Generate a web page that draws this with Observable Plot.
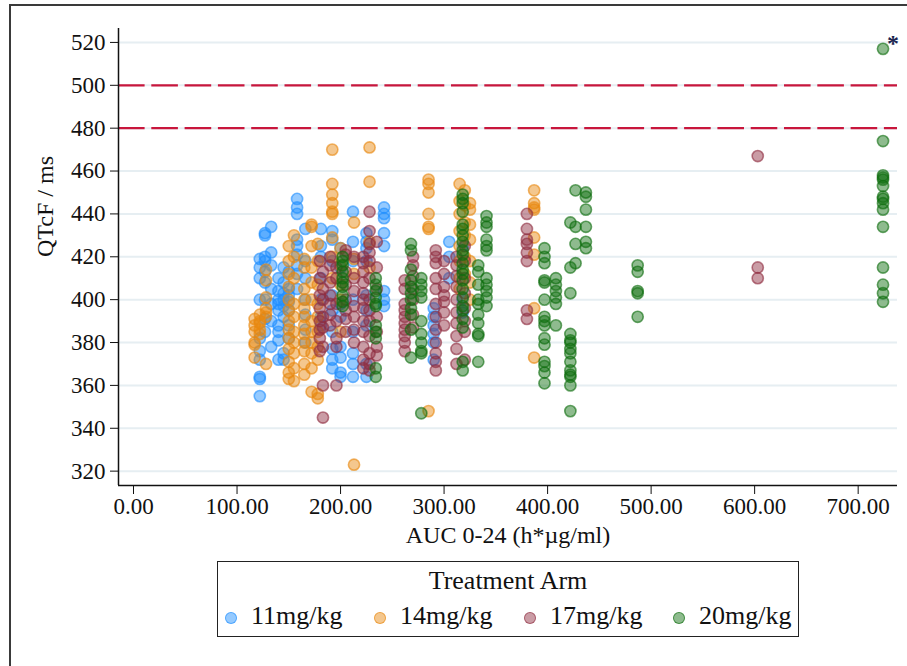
<!DOCTYPE html>
<html>
<head>
<meta charset="utf-8">
<script src="https://cdn.jsdelivr.net/npm/d3@7"></script>
<script src="https://cdn.jsdelivr.net/npm/@observablehq/plot@0.6"></script>
<style>
  html, body { margin: 0; padding: 0; background: #fff; width: 907px; height: 666px; overflow: hidden; }
  #outer { position: absolute; left: 9px; top: 4px; width: 1000px; height: 1000px; border: 2px solid #3a3a3a; box-sizing: border-box; }
  #chart { position: absolute; left: 0; top: 0; }
  #legend { position: absolute; left: 217px; top: 561px; width: 582px; height: 76px; border: 1.5px solid #222; box-sizing: border-box; font-family: "Liberation Serif", serif; color: #111; }
  #legend .title { position: absolute; left: 0; right: 0; top: 4px; text-align: center; font-size: 26px; }
  #legend .item { position: absolute; top: 39px; font-size: 26px; white-space: nowrap; }
  #legend .sw { position: absolute; width: 10px; height: 10px; border-radius: 50%; top: 11px; left: -26px; border: 1.5px solid; box-sizing: content-box; }
</style>
</head>
<body>
<div id="outer"></div>
<div id="chart"></div>
<div id="legend"></div>
<script>
// ---- data ----
const arms = ["11mg/kg", "14mg/kg", "17mg/kg", "20mg/kg"];
const armColors = ["#1E8EFF", "#E8870F", "#8F2D40", "#0E6E0E"];
const xTicks = [0, 100, 200, 300, 400, 500, 600, 700];
const yTicks = [320, 340, 360, 380, 400, 420, 440, 460, 480, 500, 520];
const limitLines = [480, 500];

// each entry: [AUC 0-24, [QTcF values]]
const arm11 = [
  [122, [355, 363, 364, 372, 376, 382, 400, 410, 415, 419]],
  [127, [431, 430, 420, 418, 413, 408, 400, 391, 385]],
  [133, [434, 422, 416, 405, 398, 390, 378]],
  [140, [410, 404, 400, 398, 395, 388, 385, 381, 372]],
  [145, [415, 408, 403, 400, 397, 392, 375, 372]],
  [150, [413, 405, 402, 399, 395, 388, 382]],
  [158, [447, 443, 440, 428, 425, 421, 416, 412, 405]],
  [166, [433, 418, 410, 400, 393, 386, 380]],
  [181, [433, 425, 420, 410, 400, 392, 388]],
  [192, [432, 428, 418, 402, 395, 385, 377, 372, 368]],
  [200, [424, 415, 398, 392, 378, 373, 366, 364]],
  [212, [441, 427, 418, 400, 385, 375, 370, 364]],
  [225, [431, 427, 424, 418, 402, 395, 388, 370, 364]],
  [242, [443, 440, 438, 431, 425, 404, 400, 397]],
  [290, [396, 392, 388, 384, 380, 372]],
  [305, [427, 420, 410]],
  [318, [425, 400, 394]]
];
const arm14 = [
  [117, [391, 388, 385, 380, 373, 379]],
  [122, [393, 389, 386, 390, 384]],
  [128, [414, 409, 401, 396, 394, 392, 370]],
  [150, [425, 418, 412, 406, 400, 395, 390, 386, 382, 377, 371, 366, 363]],
  [155, [430, 420, 410, 398, 392, 385, 380, 375, 368, 362]],
  [165, [419, 415, 405, 400, 396, 392, 388, 384, 380, 376, 370, 365]],
  [172, [435, 434, 425, 415, 408, 400, 390, 385, 380, 375, 368, 357]],
  [178, [426, 418, 407, 398, 392, 385, 378, 372, 356, 354]],
  [192, [470, 454, 449, 445, 441, 440, 429, 420, 410]],
  [200, [424, 416, 407, 400, 385]],
  [213, [323, 436, 419, 412]],
  [228, [471, 455, 427, 415]],
  [285, [456, 454, 450, 440, 434, 433, 348]],
  [315, [454, 446, 440, 432, 425, 418, 410, 405]],
  [320, [451, 444, 436, 430, 420, 412]],
  [325, [445, 442, 435, 428, 418, 408, 400]],
  [387, [451, 445, 443, 442, 429, 421, 396, 373]]
];
const arm17 = [
  [180, [418, 410, 402, 396, 390, 386, 382, 376]],
  [183, [413, 405, 400, 392, 387, 378, 360, 345]],
  [190, [420, 416, 408, 402, 398, 393, 388]],
  [196, [415, 410, 398, 390, 382, 378, 360]],
  [205, [423, 421, 413, 407, 400, 395, 391, 385]],
  [213, [420, 410, 404, 397, 392, 386, 380]],
  [222, [420, 417, 413, 408, 403, 400, 396, 390, 385, 378, 372, 368]],
  [228, [441, 432, 426, 422, 418, 410, 400, 395, 390, 383, 375, 370, 367]],
  [235, [427, 415, 405, 392, 385, 378, 374]],
  [262, [409, 405, 398, 395, 392, 389, 386, 383, 380, 376]],
  [270, [420, 416, 411, 405, 400, 393, 387]],
  [292, [423, 420, 417, 410, 405, 398, 392, 386, 380, 375, 371, 367]],
  [300, [418, 412, 406, 402, 399, 394, 388]],
  [312, [420, 416, 411, 406, 400, 394, 389, 383, 377, 370]],
  [320, [425, 418, 410, 403, 396, 390, 385, 372]],
  [380, [440, 433, 428, 426, 422, 418, 395, 391]],
  [603, [467, 415, 410]]
];
const arm20 = [
  [202, [420, 418, 416, 413, 410, 408, 406, 402, 399, 397]],
  [234, [410, 407, 404, 401, 398, 397, 388, 385, 382, 368, 364]],
  [268, [426, 423, 414, 409, 406, 403, 400, 396, 393, 386, 373]],
  [278, [410, 407, 404, 401, 390, 384, 380, 376, 375, 347]],
  [318, [449, 447, 445, 441, 435, 433, 430, 427, 423, 421, 417, 414, 412, 409, 405, 401, 397, 395, 391, 387, 371, 367]],
  [333, [416, 413, 407, 400, 398, 393, 389, 384, 383, 371]],
  [341, [439, 436, 434, 428, 425, 423, 410, 407, 404, 401, 397]],
  [397, [424, 420, 417, 409, 408, 400, 392, 390, 388, 382, 379, 371, 369, 366, 361]],
  [408, [410, 407, 404, 401, 398, 388]],
  [422, [436, 415, 403, 384, 381, 380, 377, 375, 371, 367, 365, 364, 360, 348]],
  [427, [451, 434, 426, 417]],
  [437, [450, 448, 442, 434, 427, 424]],
  [487, [416, 413, 404, 403, 392]],
  [724, [517, 474, 458, 457, 456, 453, 448, 447, 445, 442, 434, 415, 407, 403, 399]]
];
const flagged = [{auc: 724, qtc: 517, label: "*"}];

// ---- build table ----
const armData = [arm11, arm14, arm17, arm20];
const points = [];
armData.forEach((subjects, i) => {
  subjects.forEach(([auc, vals]) => vals.forEach(q => points.push({arm: arms[i], auc, qtc: q})));
});

const font = "Liberation Serif, Times New Roman, serif";
const xDomain = [-14.5, 738];
const yDomain = [313.3, 526.5];

const chart = Plot.plot({
  width: 907,
  height: 556,
  marginLeft: 118,
  marginRight: 10,
  marginTop: 28,
  marginBottom: 71,
  style: {fontFamily: font, fontSize: "22px", color: "#111", background: "transparent", overflow: "visible"},
  x: {domain: xDomain},
  y: {domain: yDomain},
  color: {domain: arms, range: armColors},
  marks: [
    Plot.ruleY(yTicks, {stroke: "#e6eef2", strokeWidth: 2}),
    Plot.ruleY(limitLines, {stroke: "#C8163C", strokeWidth: 2.2, strokeDasharray: "26.6,6.7"}),
    Plot.ruleX([xDomain[0]], {stroke: "#111", strokeWidth: 1.5}),
    Plot.ruleY([yDomain[0]], {stroke: "#111", strokeWidth: 1.5}),
    Plot.axisX({ticks: xTicks, tickFormat: d => d.toFixed(2), tickSize: 9, tickPadding: 3, label: null, fontSize: 23, stroke: "#111"}),
    Plot.axisY({ticks: yTicks, tickSize: 8, tickPadding: 5, label: null, fontSize: 23, stroke: "#111"}),
    Plot.dot(points, {x: "auc", y: "qtc", r: 5.6, fill: "arm", stroke: "arm", fillOpacity: 0.47, strokeOpacity: 0.62, strokeWidth: 1.6}),
    Plot.text(flagged, {x: "auc", y: "qtc", text: "label", dx: 10, dy: -6, fontSize: 24, fontWeight: "bold", fill: "#1b2550"}),
    Plot.text(["AUC 0-24 (h*µg/ml)"], {frameAnchor: "bottom", dy: 57, fontSize: 24, fill: "#111"}),
    Plot.text(["QTcF / ms"], {frameAnchor: "left", rotate: -90, dx: -73, fontSize: 24, fill: "#111"})
  ]
});
document.getElementById("chart").appendChild(chart);

// ---- legend (below the svg) ----
const legend = document.getElementById("legend");
const title = document.createElement("div");
title.className = "title";
title.textContent = "Treatment Arm";
legend.appendChild(title);
const itemLeft = [33, 182, 332, 481];
arms.forEach((a, i) => {
  const item = document.createElement("div");
  item.className = "item";
  item.style.left = itemLeft[i] + "px";
  const sw = document.createElement("span");
  sw.className = "sw";
  const c = d3.color(armColors[i]);
  const f = c.copy({opacity: 0.47});
  const s = c.copy({opacity: 0.62});
  sw.style.background = f.formatRgb();
  sw.style.borderColor = s.formatRgb();
  item.appendChild(sw);
  item.appendChild(document.createTextNode(a));
  legend.appendChild(item);
});
</script>
</body>
</html>
